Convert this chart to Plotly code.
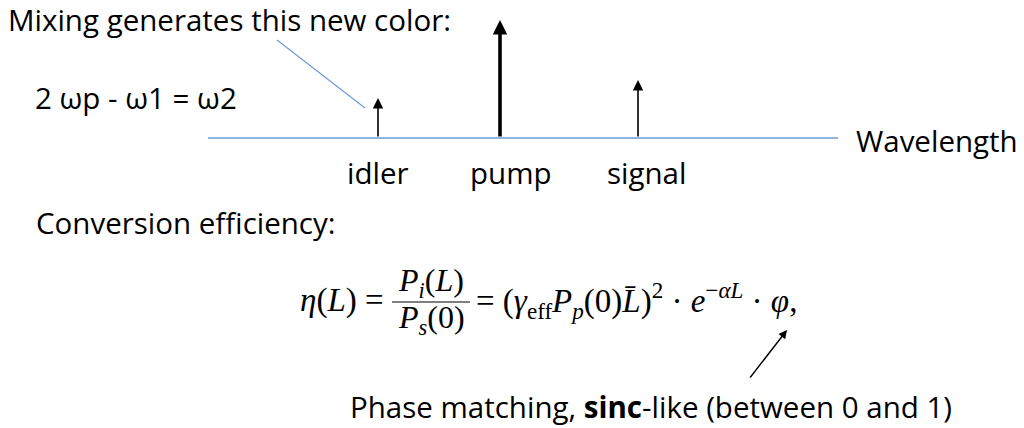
import plotly.graph_objects as go

# ---- data ----
waves = ["idler", "pump", "signal"]
wave_pos = [378, 500, 638]          # position along the wavelength axis
wave_amp = [40, 118, 58]            # relative power (arrow height)
label_pos = [378, 511, 646]
axis_span = [208, 838]
pointer_x = [277, 365]
pointer_y = [98, 30]
phi_arrow_tail = [749, -241]
phi_arrow_tip = [787, -192]

SANS = "'Open Sans', Lato, sans-serif"
SERIF = "'Liberation Serif', 'DejaVu Serif', serif"
FS = 29.5
EQ = 33
FR = 32

fig = go.Figure()

# baseline (wavelength axis)
fig.add_trace(go.Scatter(x=axis_span, y=[0, 0], mode="lines",
                         line=dict(color="#6d9bd3", width=1.5), hoverinfo="skip"))
# pointer line from text to idler
fig.add_trace(go.Scatter(x=pointer_x, y=pointer_y, mode="lines",
                         line=dict(color="#6d9bd3", width=1.2), hoverinfo="skip"))

ann = []
for name, xp, amp, lx in zip(waves, wave_pos, wave_amp, label_pos):
    w = 3.6 if name == "pump" else 1.6
    ann.append(dict(x=xp, y=amp, ax=xp, ay=0, xref="x", yref="y", axref="x", ayref="y",
                    showarrow=True, arrowhead=2, arrowsize=1.3 if name != "pump" else 0.8,
                    arrowwidth=w, arrowcolor="black", text=""))
    ann.append(dict(x=lx, y=-34, text=name, showarrow=False, xanchor="center", yanchor="middle",
                    font=dict(family=SANS, size=FS, color="black")))

def txt(x, y, t, anchor="left", size=FS, family=SANS):
    return dict(x=x, y=y, text=t, showarrow=False, xanchor=anchor, yanchor="middle",
                font=dict(family=family, size=size, color="black"))

ann.append(txt(6, 119, "Mixing generates this new color:"))
ann.append(txt(33, 41, "2 ωp - ω1 = ω2"))
ann.append(txt(854, -2, "Wavelength"))
ann.append(txt(34, -84, "Conversion efficiency:"))
ann.append(txt(348, -268, "Phase matching, <b>sinc</b>-like (between 0 and 1)"))

# equation
ann.append(txt(386, -162, "<i>η</i>(<i>L</i>) =", anchor="right", size=EQ, family=SERIF))
ann.append(txt(431, -144, "<i>P<sub>i</sub></i>(<i>L</i>)", anchor="center", size=FR, family=SERIF))
ann.append(txt(431, -181, "<i>P<sub>s</sub></i>(0)", anchor="center", size=FR, family=SERIF))
ann.append(txt(474, -162,
               "= (<i>γ</i><sub>eff</sub><i>P<sub>p</sub></i>(0)<i>L\u0304</i>)<sup>2</sup> · "
               "<i>e</i><sup>−<i>αL</i></sup> · <i>φ</i>,", anchor="left", size=EQ, family=SERIF))
ann.append(dict(x=phi_arrow_tip[0], y=phi_arrow_tip[1], ax=phi_arrow_tail[0], ay=phi_arrow_tail[1],
                xref="x", yref="y", axref="x", ayref="y", showarrow=True, arrowhead=2,
                arrowsize=1.2, arrowwidth=1.4, arrowcolor="black", text=""))

fig.add_shape(type="line", x0=392, x1=470, y0=-164, y1=-164, xref="x", yref="y",
              line=dict(color="black", width=1.2))

fig.update_layout(
    width=1024, height=428, margin=dict(l=0, r=0, t=0, b=0),
    paper_bgcolor="white", plot_bgcolor="white", showlegend=False,
    annotations=ann,
    xaxis=dict(range=[0, 1024], visible=False, fixedrange=True),
    yaxis=dict(range=[-290, 138], visible=False, fixedrange=True),
)
fig.write_html("out.html", config={"displayModeBar": False},
               post_script="document.body.style.margin='0px';")
